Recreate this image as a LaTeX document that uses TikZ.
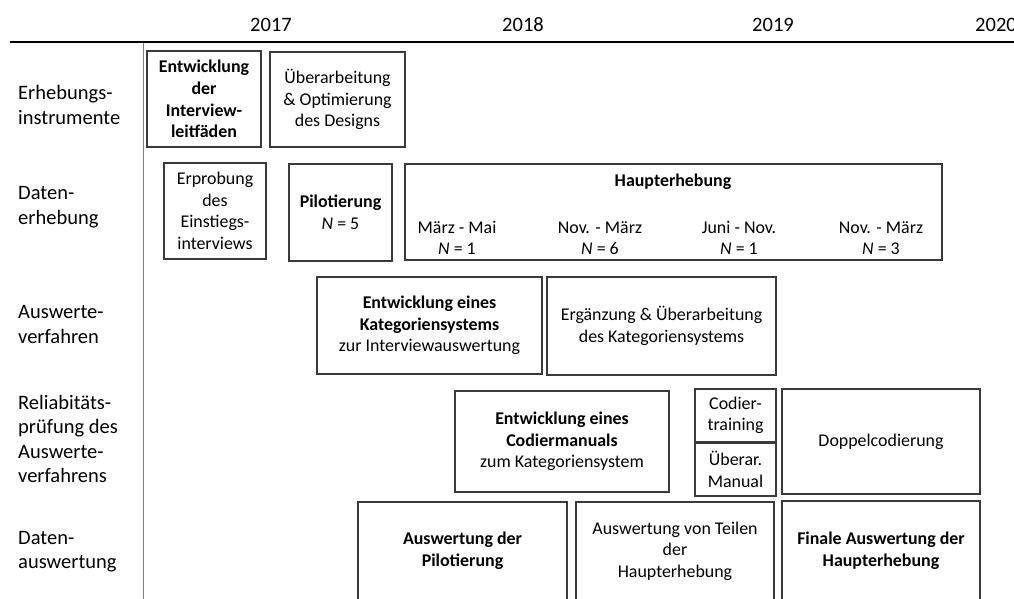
\documentclass[tikz,border=0pt]{standalone}
\usepackage{fontspec}
\setmainfont{Carlito}
\definecolor{boxc}{HTML}{3A3A3A}
\definecolor{vline}{HTML}{808080}
\begin{document}
\begin{tikzpicture}[x=1pt,y=-1pt,
  box/.style={draw=boxc, line width=1.3pt, inner sep=0pt, align=center,
    font=\fontsize{17.9}{21.6}\selectfont},
  txt/.style={inner sep=0pt, align=center, font=\fontsize{17.9}{21.6}\selectfont},
  lbl/.style={anchor=west, align=left, inner sep=0pt, font=\fontsize{20.5}{24.5}\selectfont},
  yr/.style={inner sep=0pt, font=\fontsize{20.5}{24.5}\selectfont}]
\clip (0,0) rectangle (1014,599);
\fill[white] (0,0) rectangle (1014,599);
% header
\node[yr] (y17) at (271,25) {2017};
\node[yr] (y18) at (523,25) {2018};
\node[yr] (y19) at (773,25) {2019};
\node[yr, anchor=west] (y20) at (975,25) {2020};
\coordinate (hl) at (10,42);
\coordinate (hr) at (1020,42);
\coordinate (vt) at (143,42);
\coordinate (vb) at (143,605);
\draw[vline, line width=1pt] (vt) -- (vb);
\draw[black, line width=2pt] (hl) -- (hr);
% row labels
\node[lbl] (l1) at (18,105) {Erhebungs-\\instrumente};
\node[lbl] (l2) at (18,207) {Daten-\\erhebung};
\node[lbl] (l3) at (18,324.5) {Auswerte-\\verfahren};
\node[lbl] (l4) at (18,439) {Reliabitäts-\\prüfung des\\Auswerte-\\verfahrens};
\node[lbl] (l5) at (18,551.5) {Daten-\\auswertung};
% row 1
\node[box, minimum width=114pt, minimum height=96pt] (a) at (204,99) {\bfseries Entwicklung\\\bfseries der\\\bfseries Interview-\\\bfseries leitfäden};
\node[box, minimum width=135pt, minimum height=95pt] (b) at (337.5,99.5) {Überarbeitung\\\& Optimierung\\des Designs};
% row 2
\node[box, minimum width=102pt, minimum height=96pt] (c) at (215,211) {Erprobung\\des\\Einstiegs-\\interviews};
\node[box, minimum width=103pt, minimum height=97pt] (d) at (340.5,212.5) {\bfseries Pilotierung\\\textit{N} = 5};
\node[box, minimum width=537pt, minimum height=96pt] (e) at (673.5,212) {};
\node[txt] (e0) at (673,182) {\bfseries Haupterhebung};
\node[txt] (e1) at (457,238) {März - Mai\\\textit{N} = 1};
\node[txt] (e2) at (600,238) {Nov. - März\\\textit{N} = 6};
\node[txt] (e3) at (739,238) {Juni - Nov.\\\textit{N} = 1};
\node[txt] (e4) at (881,238) {Nov. - März\\\textit{N} = 3};
% row 3
\node[box, minimum width=225pt, minimum height=97pt] (f) at (429.5,325.5) {\bfseries Entwicklung eines\\\bfseries Kategoriensystems\\zur Interviewauswertung};
\node[box, minimum width=229pt, minimum height=98pt] (g) at (661.5,326) {Ergänzung \& Überarbeitung\\des Kategoriensystems};
% row 4
\node[box, minimum width=214pt, minimum height=101pt] (h) at (562,441.5) {\bfseries Entwicklung eines\\\bfseries Codiermanuals\\zum Kategoriensystem};
\node[box, minimum width=81pt, minimum height=53pt] (i) at (735.5,415.5) {Codier-\\training};
\node[box, minimum width=81pt, minimum height=53pt] (j) at (735.5,469.5) {Überar.\\Manual};
\node[box, minimum width=198pt, minimum height=105pt] (k) at (881,441.5) {Doppelcodierung};
% row 5
\node[box, minimum width=209pt, minimum height=98pt] (m) at (462.5,551) {\bfseries Auswertung der\\\bfseries Pilotierung};
\node[box, minimum width=198pt, minimum height=98pt] (n) at (675,551) {Auswertung von Teilen\\der\\Haupterhebung};
\node[box, minimum width=198pt, minimum height=99pt] (o) at (881,550.5) {\bfseries Finale Auswertung der\\\bfseries Haupterhebung};
\end{tikzpicture}
\end{document}
